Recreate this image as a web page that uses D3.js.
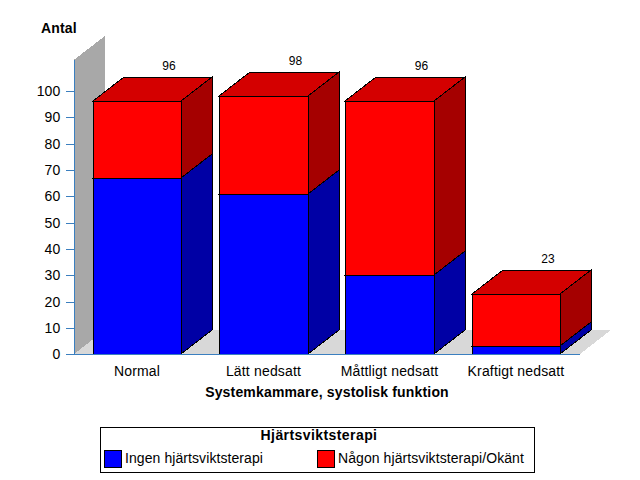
<!DOCTYPE html>
<html><head><meta charset="utf-8">
<script src="https://cdn.jsdelivr.net/npm/d3@7/dist/d3.min.js"></script>
<style>
html,body{margin:0;padding:0;background:#fff}
text{font-family:"Liberation Sans",Arial,sans-serif;font-size:14px;letter-spacing:.17px;fill:#000}
.b{font-weight:bold}
</style></head><body><svg id="c" width="640" height="480"></svg>
<script>
const categories=["Normal","Lätt nedsatt","Måttligt nedsatt","Kraftigt nedsatt"];
const ingen=[67,61,30,3];
const nagon=[29,37,66,20];
const totals=[96,98,96,23];
const yTicks=[0,10,20,30,40,50,60,70,80,90,100];
const seriesNames=["Ingen hjärtsviktsterapi","Någon hjärtsviktsterapi/Okänt"];
const seriesColors=[{f:"#0000ff",s:"#0000a5",t:"#0000d4"},{f:"#ff0000",s:"#a50000",t:"#d40000"}];

const svg=d3.select("#c");
const dx=31,dy=-24;
const x=d3.scaleBand().domain(categories).range([74,579.2]).paddingInner(0.3).paddingOuter(0.15);
const y=d3.scaleLinear().domain([0,100]).range([354.2,90.9]);
const wallTop=y(111.8);
const y0=Math.round(y(0));
const poly=(pts,fill,stroke)=>svg.append("path").attr("d","M"+pts.map(p=>p.join(",")).join("L")+"Z")
  .attr("fill",fill).attr("stroke",stroke||"none").attr("shape-rendering","crispEdges");

// wall and floor
poly([[74,wallTop],[74+dx,wallTop+dy],[74+dx,y0+dy],[74,y0]],"#a8a8a8");
poly([[74,y0],[74+dx,y0+dy],[580+dx,y0+dy],[580,y0]],"#d8d8d8");

// bars
categories.forEach((c,i)=>{
  const x0=Math.round(x(c)-0.1),x1=Math.round(x(c)+x.bandwidth());
  const segs=[[0,ingen[i],0],[ingen[i],ingen[i]+nagon[i],1]];
  segs.forEach(([a,b,k])=>{
    const ya=Math.round(y(a)),yb=Math.round(y(b)),col=seriesColors[k];
    poly([[x1,ya],[x1+dx,ya+dy],[x1+dx,yb+dy],[x1,yb]],col.s,"#000");
    poly([[x0,yb],[x1,yb],[x1+dx,yb+dy],[x0+dx,yb+dy]],col.t,"#000");
    poly([[x0,ya],[x1,ya],[x1,yb],[x0,yb]],col.f,"#000");
  });
  svg.append("text").attr("x",(x0+x1)/2+dx+1).attr("y",Math.round(y(totals[i]))+dy-7)
    .attr("text-anchor","middle").style("font-size","12px").style("letter-spacing","0").text(totals[i]);
  svg.append("text").attr("x",(x0+x1)/2).attr("y",376).attr("text-anchor","middle").text(c);
});

// axes
const ax=svg.append("g").attr("transform","translate(74.5,0)")
  .call(d3.axisLeft(y).tickValues(yTicks).tickSize(9).tickPadding(5));
ax.selectAll("line,path").attr("stroke","#3b7fbf").attr("shape-rendering","crispEdges");
ax.select(".domain").attr("d",`M0,${wallTop}V${y0+.5}`);
ax.selectAll("text").attr("font-family",null).attr("font-size",null);
svg.append("line").attr("x1",74).attr("x2",580).attr("y1",y0+.5).attr("y2",y0+.5)
  .attr("stroke","#3b7fbf").attr("shape-rendering","crispEdges");

svg.append("text").attr("class","b").attr("x",41).attr("y",33).text("Antal");
svg.append("text").attr("class","b").attr("x",327).attr("y",397).attr("text-anchor","middle").text("Systemkammare, systolisk funktion");

// legend
svg.append("rect").attr("x",100.5).attr("y",427.5).attr("width",434).attr("height",45).attr("fill","#fff").attr("stroke","#000").attr("shape-rendering","crispEdges");
svg.append("text").attr("class","b").attr("x",319).attr("y",440).attr("text-anchor","middle").style("letter-spacing",".42px").text("Hjärtsviktsterapi");
const lx=[104.5,317.5];
seriesNames.forEach((n,i)=>{
  svg.append("rect").attr("x",lx[i]).attr("y",450.5).attr("width",17).attr("height",17)
    .attr("fill",seriesColors[i].f).attr("stroke","#000").attr("shape-rendering","crispEdges");
  svg.append("text").attr("x",lx[i]+20.5).attr("y",463).style("letter-spacing",".08px").text(n);
});
</script></body></html>
